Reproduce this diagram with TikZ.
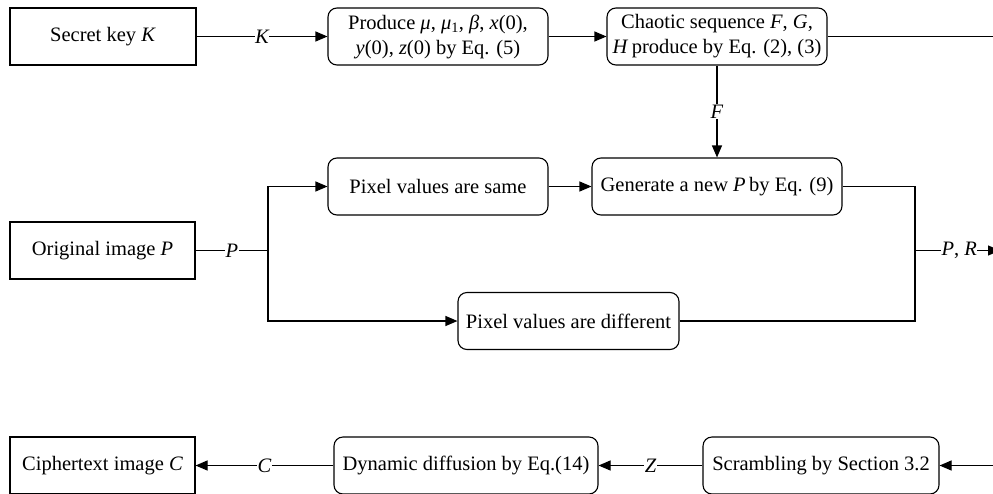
\documentclass[tikz,border=0pt]{standalone}
\usepackage{fontspec}
\setmainfont{Liberation Serif}
\usetikzlibrary{arrows.meta}
\begin{document}
\begin{tikzpicture}[x=1pt,y=-1pt, line width=1.1pt,
  font=\fontsize{20.5}{25}\selectfont,
  sqbox/.style={draw, rectangle, minimum height=57pt, inner sep=1pt, align=center},
  rbox/.style={draw, rectangle, rounded corners=9pt, minimum height=57pt, inner sep=1pt, align=center},
  arr/.style={-{Triangle[length=12pt,width=10pt]}},
  lbl/.style={fill=white, inner sep=0.5pt, font=\fontsize{20.5}{25}\selectfont\itshape}]
\useasboundingbox (0,0) rectangle (993,493);
\clip (0,0) rectangle (993,493);
% top row
\node[sqbox, minimum width=186pt] (sk) at (103,36.5) {Secret key \textit{K}};
\node[rbox, minimum width=220pt] (prod) at (438,36.5) {Produce \textit{μ}, \textit{μ}\textsubscript{1}, \textit{β}, \textit{x}(0),\\ \textit{y}(0), \textit{z}(0) by Eq. (5)};
\node[rbox, minimum width=220pt] (chaos) at (717,36.5) {Chaotic sequence \textit{F}, \textit{G},\\ \textit{H}\,produce by Eq. (2), (3)};
\coordinate (topend) at (1000,36.5);
\draw[arr] (sk) -- node[lbl] {K} (prod);
\draw[arr] (prod) -- (chaos);
\draw (chaos) -- (topend);
% middle
\node[rbox, minimum width=220pt] (same) at (438,186.5) {Pixel values are same};
\node[rbox, minimum width=250pt] (gen) at (717,186.5) {Generate a new \textit{P}\,by Eq. (9)};
\node[sqbox, minimum width=185pt] (orig) at (102.5,250.5) {Original image \textit{P}};
\node[rbox, minimum width=221pt] (diff) at (568.5,321) {Pixel values are different};
\coordinate (j1) at (268,250.5);
\coordinate (j2) at (915,250.5);
\coordinate (midend) at (1000,250.5);
\draw[arr] (chaos) -- node[lbl] {F} (gen);
\draw (orig) -- node[lbl] {P} (j1);
\draw[arr] (j1) |- (same);
\draw[arr] (j1) |- (diff);
\draw[arr] (same) -- (gen);
\draw (gen) -| (j2);
\draw (diff) -| (j2);
\draw[arr] (j2) -- node[lbl, pos=0.52] {P\upshape, \itshape R} (midend);
% bottom
\node[sqbox, minimum width=185pt] (ciph) at (102.5,465.5) {Ciphertext image \textit{C}};
\node[rbox, minimum width=264pt] (dyn) at (466,465.5) {Dynamic diffusion by Eq.(14)};
\node[rbox, minimum width=236pt] (scr) at (821,465.5) {Scrambling by Section 3.2};
\coordinate (botstart) at (1000,465.5);
\draw[arr] (botstart) -- (scr);
\draw[arr] (scr) -- node[lbl] {Z} (dyn);
\draw[arr] (dyn) -- node[lbl] {C} (ciph);
\end{tikzpicture}
\end{document}
